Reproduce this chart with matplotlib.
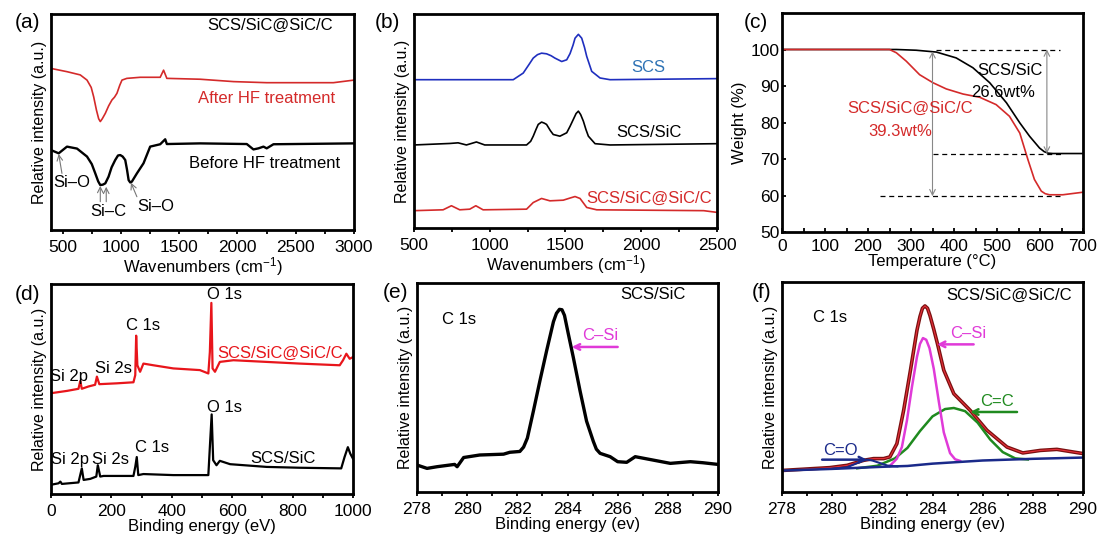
import matplotlib
matplotlib.use('Agg')
import matplotlib.pyplot as plt
from matplotlib.ticker import MultipleLocator

plt.rcParams['font.family'] = ['Liberation Sans', 'DejaVu Sans']
plt.rcParams['mathtext.fontset'] = 'custom'
plt.rcParams['mathtext.rm'] = 'Liberation Sans'
plt.rcParams['mathtext.it'] = 'Liberation Sans:italic'
plt.rcParams['mathtext.bf'] = 'Liberation Sans:bold'

# ---------------- (a) FTIR ----------------
a_after_x = [400, 537, 651, 709, 745, 766, 790, 809, 823, 840, 866, 895, 923, 945, 966, 990, 1009, 1051, 1166, 1337, 1366, 1394, 1680, 1966, 2251, 2823, 3000]
a_after_y = [74.8, 73.3, 71.8, 69.4, 66.0, 61.7, 55.5, 51.5, 50.2, 51.5, 54.0, 57.5, 60.2, 61.5, 63.3, 67.0, 69.4, 70.2, 70.7, 70.7, 74.0, 70.2, 69.8, 68.7, 68.2, 68.2, 69.4]
a_before_x = [400, 466, 537, 623, 709, 750, 780, 805, 823, 845, 866, 894, 920, 951, 975, 994, 1015, 1037, 1052, 1066, 1080, 1094, 1137, 1194, 1251, 1337, 1380, 1394, 1680, 2080, 2137, 2180, 2223, 2251, 2309, 3000]
a_before_y = [37.0, 35.5, 38.6, 37.7, 34.0, 30.5, 26.2, 22.5, 20.8, 21.0, 21.6, 24.7, 29.0, 32.4, 34.5, 34.7, 34.0, 32.4, 28.0, 23.1, 22.0, 22.4, 26.2, 30.9, 38.6, 39.7, 42.0, 39.8, 40.1, 39.8, 37.3, 37.8, 38.6, 37.8, 39.7, 40.1]

# ---------------- (b) Raman ----------------
b_scs_x = [500, 1155, 1221, 1260, 1287, 1315, 1342, 1375, 1405, 1430, 1475, 1508, 1530, 1550, 1563, 1585, 1607, 1625, 1640, 1673, 1728, 1794, 2500]
b_scs_y = [69.3, 69.3, 72.4, 76.5, 79.4, 81.0, 81.7, 81.4, 80.5, 79.4, 77.8, 78.6, 81.5, 85.5, 88.7, 90.5, 88.7, 84.5, 80.2, 73.2, 70.1, 69.3, 69.8]
b_sic_x = [500, 736, 791, 846, 912, 967, 1243, 1270, 1287, 1305, 1320, 1342, 1360, 1375, 1400, 1419, 1463, 1508, 1530, 1550, 1570, 1585, 1600, 1618, 1635, 1651, 1695, 1794, 2500]
b_sic_y = [38.8, 39.5, 39.8, 38.8, 40.2, 38.8, 38.8, 40.5, 42.9, 46.0, 48.4, 49.5, 49.0, 48.4, 45.5, 43.7, 42.9, 44.5, 47.5, 50.5, 53.5, 54.6, 53.0, 49.9, 46.0, 42.9, 39.4, 38.8, 39.4]
b_sicc_x = [500, 692, 747, 802, 868, 908, 956, 1243, 1287, 1342, 1397, 1485, 1530, 1563, 1596, 1640, 1706, 2412, 2500]
b_sicc_y = [8.1, 8.5, 10.4, 8.5, 8.8, 10.4, 8.5, 8.8, 11.9, 13.8, 12.7, 13.0, 14.0, 14.7, 13.8, 9.6, 8.5, 8.1, 7.3]

# ---------------- (c) TGA ----------------
c_sic_x = [0, 266, 312, 359, 405, 444, 483, 522, 553, 576, 599, 610, 619, 630, 700]
c_sic_y = [100, 100, 99.8, 99.3, 97.7, 95.0, 90.9, 85.4, 79.9, 76.2, 73.0, 72.0, 71.6, 71.5, 71.5]
c_sicc_x = [0, 250, 266, 289, 320, 351, 382, 421, 460, 498, 529, 553, 572, 587, 603, 612, 622, 653, 700]
c_sicc_y = [100, 100, 99.1, 96.8, 93.1, 90.9, 89.2, 87.8, 86.9, 84.9, 81.7, 77.1, 69.8, 64.4, 61.2, 60.5, 60.2, 60.2, 60.9]
c_yticks = [50, 60, 70, 80, 90, 100]
c_xticks = [0, 100, 200, 300, 400, 500, 600, 700]

# ---------------- (d) XPS survey ----------------
d_sicc_x = [0, 53, 91, 97, 102, 124, 146, 152, 160, 218, 273, 279, 282, 286, 295, 306, 339, 405, 493, 521, 526, 531, 535, 543, 559, 604, 714, 824, 956, 967, 978, 989, 1000]
d_sicc_y = [48.0, 49.1, 50.1, 53.8, 50.1, 51.2, 52.0, 55.9, 52.3, 52.7, 53.2, 56.6, 75.4, 61.3, 58.2, 62.1, 61.3, 59.8, 59.0, 57.4, 67.6, 91.0, 59.8, 58.2, 62.9, 63.7, 62.9, 62.1, 61.3, 63.7, 66.8, 64.4, 65.2]
d_sic_x = [0, 25, 31, 36, 91, 102, 108, 130, 150, 155, 163, 174, 273, 279, 284, 289, 306, 405, 521, 526, 532, 537, 548, 559, 593, 714, 824, 961, 972, 983, 991, 1000]
d_sic_y = [4.4, 5.1, 5.9, 4.8, 5.5, 12.2, 6.7, 7.2, 8.3, 13.7, 8.3, 8.6, 8.6, 12.9, 17.6, 9.0, 9.5, 9.0, 9.0, 22.3, 37.9, 16.1, 13.7, 15.8, 14.2, 12.9, 12.5, 12.2, 17.6, 22.3, 19.2, 16.8]

# ---------------- (e) C1s SCS/SiC ----------------
e_x = [278.0, 278.4, 278.8, 279.5, 279.6, 279.86, 280.5, 281.45, 281.7, 282.1, 282.25, 282.4, 282.64, 282.9, 283.17, 283.44, 283.56, 283.68, 283.78, 283.88, 284.03, 284.23, 284.5, 284.76, 285.03, 285.15, 285.3, 285.7, 286.0, 286.36, 286.7, 287.4, 288.1, 288.9, 289.4, 290.0]
e_y = [12.9, 11.3, 12.1, 13.2, 12.1, 16.5, 17.7, 18.1, 19.0, 19.4, 21.5, 25.8, 38.7, 53.2, 67.7, 81.5, 85.5, 87.4, 87.2, 84.5, 75.8, 64.5, 48.4, 33.9, 24.2, 20.5, 18.5, 16.9, 14.5, 14.2, 16.9, 15.3, 13.7, 14.5, 14.0, 13.2]

# ---------------- (f) C1s SCS/SiC@SiC/C ----------------
f_bg_x = [278, 280, 282, 283, 284, 286, 288, 290]
f_bg_y = [10.2, 11.0, 12.0, 12.4, 13.5, 15.0, 15.8, 16.4]
f_co_x = [280.0, 280.6, 281.0, 281.2, 281.4, 281.6, 281.8, 282.2, 282.6]
f_co_y = [11.0, 11.8, 13.8, 14.9, 15.4, 15.0, 14.2, 12.6, 12.2]
f_csi_x = [282.3, 282.58, 282.78, 282.98, 283.18, 283.38, 283.5, 283.62, 283.75, 283.88, 284.05, 284.25, 284.45, 284.7, 284.9, 285.1]
f_csi_y = [12.4, 15.9, 21.4, 34.0, 50.0, 64.3, 70.5, 73.3, 72.5, 68.5, 58.7, 43.2, 28.4, 18.5, 15.6, 14.8]
f_cc_x = [281.0, 281.8, 282.5, 283.0, 283.5, 284.0, 284.5, 284.85, 285.3, 285.8, 286.3, 286.8, 287.3, 287.8]
f_cc_y = [11.3, 12.5, 16.0, 21.0, 29.0, 36.0, 39.5, 40.0, 38.5, 33.0, 25.0, 19.0, 16.0, 15.5]
f_env_x = [278.07, 279.9, 280.6, 281.26, 281.65, 282.05, 282.3, 282.58, 282.85, 283.12, 283.38, 283.5, 283.6, 283.7, 283.8, 283.9, 284.05, 284.2, 284.45, 284.85, 285.5, 286.17, 286.97, 287.6, 288.3, 288.96, 290.0]
f_env_y = [10.3, 11.6, 12.7, 15.1, 15.9, 15.9, 16.7, 23.0, 38.9, 57.9, 77.0, 83.5, 87.5, 88.6, 87.5, 84.0, 77.5, 70.5, 58.0, 46.8, 38.9, 29.4, 21.4, 18.6, 19.8, 20.3, 18.3]

W, H = 1104, 538
fig = plt.figure(figsize=(W / 100, H / 100), dpi=100)


def box(l, t, r, b):
    return [l / W, 1 - b / H, (r - l) / W, (b - t) / H]


TICK = 12.5
LAB = 12


def style(ax, major, minor, direction='out', pad=4.5):
    for sp in ax.spines.values():
        sp.set_linewidth(2.0)
    ax.xaxis.set_major_locator(MultipleLocator(major))
    ax.xaxis.set_minor_locator(MultipleLocator(minor))
    ax.tick_params(axis='x', which='both', direction=direction, length=3, width=1.3,
                   labelsize=TICK, pad=pad, top=False)
    ax.set_yticks([])


FS = 12
ann_grey = dict(arrowstyle='->', color='#777777', lw=0.8, shrinkA=0, shrinkB=0)

# (a)
ax = fig.add_axes(box(51, 14, 354, 230))
ax.plot(a_after_x, a_after_y, color='#d42a2a', lw=1.2)
ax.plot(a_before_x, a_before_y, color='black', lw=1.7)
ax.set_xlim(400, 3000)
ax.set_ylim(0, 100)
style(ax, 500, 250)
ax.set_xlabel('Wavenumbers (cm$^{-1}$)', fontsize=LAB, labelpad=0)
ax.set_ylabel('Relative intensity (a.u.)', fontsize=11.5, labelpad=3)
ax.text(2279, 94.9, 'SCS/SiC@SiC/C', fontsize=FS, ha='center', va='center')
ax.text(2253, 61, 'After HF treatment', fontsize=FS, color='#d42a2a', ha='center', va='center')
ax.text(2236, 31, 'Before HF treatment', fontsize=FS, ha='center', va='center')
ax.text(580, 21.9, 'Si–O', fontsize=FS, ha='center', va='center')
ax.text(894, 8.5, 'Si–C', fontsize=FS, ha='center', va='center')
ax.text(1300, 10.8, 'Si–O', fontsize=FS, ha='center', va='center')
ax.annotate('', xy=(466, 35.2), xytext=(494, 26.2), arrowprops=ann_grey)
ax.annotate('', xy=(823, 20.4), xytext=(823, 13.1), arrowprops=ann_grey)
ax.annotate('', xy=(874, 20.0), xytext=(874, 13.1), arrowprops=ann_grey)
ax.annotate('', xy=(1086, 21.9), xytext=(1137, 15.4), arrowprops=ann_grey)

# (b)
ax = fig.add_axes(box(414, 14, 717, 228))
ax.plot(b_scs_x, b_scs_y, color='#1f2fbf', lw=1.2)
ax.plot(b_sic_x, b_sic_y, color='black', lw=1.2)
ax.plot(b_sicc_x, b_sicc_y, color='#d42a2a', lw=1.2)
ax.set_xlim(500, 2500)
ax.set_ylim(0, 100)
style(ax, 500, 250)
ax.set_xlabel('Wavenumbers (cm$^{-1}$)', fontsize=LAB, labelpad=0)
ax.set_ylabel('Relative intensity (a.u.)', fontsize=11.5, labelpad=3)
ax.text(2045, 74.8, 'SCS', fontsize=FS, color='#2f73b5', ha='center', va='center')
ax.text(2051, 44.4, 'SCS/SiC', fontsize=FS, ha='center', va='center')
ax.text(2051, 14.0, 'SCS/SiC@SiC/C', fontsize=FS, color='#d42a2a', ha='center', va='center')

# (c)
ax = fig.add_axes(box(782, 13, 1083, 232))
ax.plot(c_sic_x, c_sic_y, color='black', lw=1.2)
ax.plot(c_sicc_x, c_sicc_y, color='#d42a2a', lw=1.2)
ax.set_xlim(0, 700)
ax.set_ylim(50, 110)
style(ax, 100, 50, direction='in', pad=5)
ax.set_xticks(c_xticks)
ax.set_yticks(c_yticks)
ax.tick_params(axis='y', direction='in', length=3, width=1.3, labelsize=TICK, pad=2)
ax.set_xlabel('Temperature (°C)', fontsize=LAB, labelpad=0)
ax.set_ylabel('Weight (%)', fontsize=LAB, labelpad=2)
ax.hlines(100, 359, 646, colors='black', linestyles=(0, (4, 3)), lw=0.9)
ax.hlines(71.5, 351, 653, colors='black', linestyles=(0, (4, 3)), lw=0.9)
ax.hlines(60, 227, 646, colors='black', linestyles=(0, (4, 3)), lw=0.9)
dbl = dict(arrowstyle='<->', color='#888888', lw=0.8, shrinkA=0, shrinkB=0)
ax.annotate('', xy=(350, 59.8), xytext=(350, 99.5), arrowprops=dbl)
ax.annotate('', xy=(616, 71.5), xytext=(616, 100), arrowprops=dbl)
ax.text(529, 94.3, 'SCS/SiC', fontsize=FS, ha='center', va='center')
ax.text(514, 88.1, '26.6wt%', fontsize=FS, ha='center', va='center')
ax.text(297, 84.0, 'SCS/SiC@SiC/C', fontsize=FS, color='#d42a2a', ha='center', va='center')
ax.text(274, 77.6, '39.3wt%', fontsize=FS, color='#d42a2a', ha='center', va='center')

# (d)
ax = fig.add_axes(box(51, 284, 353, 494))
ax.plot(d_sicc_x, d_sicc_y, color='#e8151b', lw=1.6)
ax.plot(d_sic_x, d_sic_y, color='black', lw=1.6)
ax.set_xlim(0, 1000)
ax.set_ylim(0, 100)
style(ax, 200, 100)
ax.set_xlabel('Binding energy (eV)', fontsize=LAB, labelpad=0)
ax.set_ylabel('Relative intensity (a.u.)', fontsize=11.5, labelpad=3)
ax.text(576, 94.9, 'O 1s', fontsize=FS, ha='center', va='center')
ax.text(306, 80.0, 'C 1s', fontsize=FS, ha='center', va='center')
ax.text(58, 55.9, 'Si 2p', fontsize=FS, ha='center', va='center')
ax.text(207, 59.8, 'Si 2s', fontsize=FS, ha='center', va='center')
ax.text(758, 66.8, 'SCS/SiC@SiC/C', fontsize=FS, color='#e8151b', ha='center', va='center')
ax.text(576, 41.0, 'O 1s', fontsize=FS, ha='center', va='center')
ax.text(334, 22.3, 'C 1s', fontsize=FS, ha='center', va='center')
ax.text(64, 16.4, 'Si 2p', fontsize=FS, ha='center', va='center')
ax.text(196, 16.4, 'Si 2s', fontsize=FS, ha='center', va='center')
ax.text(769, 16.8, 'SCS/SiC', fontsize=FS, ha='center', va='center')

# (e)
ax = fig.add_axes(box(417, 283, 718, 492))
ax.plot(e_x, e_y, color='black', lw=2.4)
ax.set_xlim(278, 290)
ax.set_ylim(0, 100)
style(ax, 2, 1)
ax.set_xlabel('Binding energy (ev)', fontsize=LAB, labelpad=0)
ax.set_ylabel('Relative intensity (a.u.)', fontsize=11.5, labelpad=3)
ax.text(287.4, 94.4, 'SCS/SiC', fontsize=FS, ha='center', va='center')
ax.text(279.66, 82.6, 'C 1s', fontsize=FS, ha='center', va='center')
ax.text(285.3, 74.7, 'C–Si', fontsize=FS, color='#e03ad8', ha='center', va='center')
ax.annotate('', xy=(284.17, 69.4), xytext=(286.0, 69.4),
            arrowprops=dict(arrowstyle='->', color='#e03ad8', lw=1.8, shrinkA=0, shrinkB=0))

# (f)
ax = fig.add_axes(box(782, 282, 1083, 492))
ax.plot(f_env_x, f_env_y, color='#7a1010', lw=2.6)
ax.plot(f_env_x, f_env_y, color='#e8303a', lw=0.8)
ax.plot(f_cc_x, f_cc_y, color='#1f8a1f', lw=1.8)
ax.plot(f_csi_x, f_csi_y, color='#e03ad8', lw=1.8)
ax.plot(f_co_x, f_co_y, color='#1a2a8a', lw=1.5)
ax.plot(f_bg_x, f_bg_y, color='#1a2a8a', lw=1.8)
ax.set_xlim(278, 290)
ax.set_ylim(0, 100)
style(ax, 2, 1)
ax.set_xlabel('Binding energy (ev)', fontsize=LAB, labelpad=0)
ax.set_ylabel('Relative intensity (a.u.)', fontsize=11.5, labelpad=3)
ax.text(287.04, 93.7, 'SCS/SiC@SiC/C', fontsize=FS, ha='center', va='center')
ax.text(279.93, 83.3, 'C 1s', fontsize=FS, ha='center', va='center')
ax.text(285.44, 75.4, 'C–Si', fontsize=FS, color='#e03ad8', ha='center', va='center')
ax.annotate('', xy=(284.18, 70.3), xytext=(285.64, 70.3),
            arrowprops=dict(arrowstyle='->', color='#e03ad8', lw=1.8, shrinkA=0, shrinkB=0))
ax.text(286.57, 42.9, 'C=C', fontsize=FS, color='#1f8a1f', ha='center', va='center')
ax.annotate('', xy=(285.5, 38.1), xytext=(287.37, 38.1),
            arrowprops=dict(arrowstyle='->', color='#1f8a1f', lw=1.8, shrinkA=0, shrinkB=0))
ax.text(280.33, 19.8, 'C=O', fontsize=FS, color='#1a2a8a', ha='center', va='center')
ax.annotate('', xy=(281.39, 15.4), xytext=(279.6, 15.4),
            arrowprops=dict(arrowstyle='->', color='#1a2a8a', lw=1.8, shrinkA=0, shrinkB=0))

# panel letters
for lab, px, py in [('(a)', 27, 22), ('(b)', 387, 22), ('(c)', 756, 23),
                    ('(d)', 27, 294), ('(e)', 396, 292), ('(f)', 762, 293)]:
    fig.text(px / W, 1 - py / H, lab, fontsize=15, ha='center', va='center')

fig.savefig('out.png', dpi=100)
